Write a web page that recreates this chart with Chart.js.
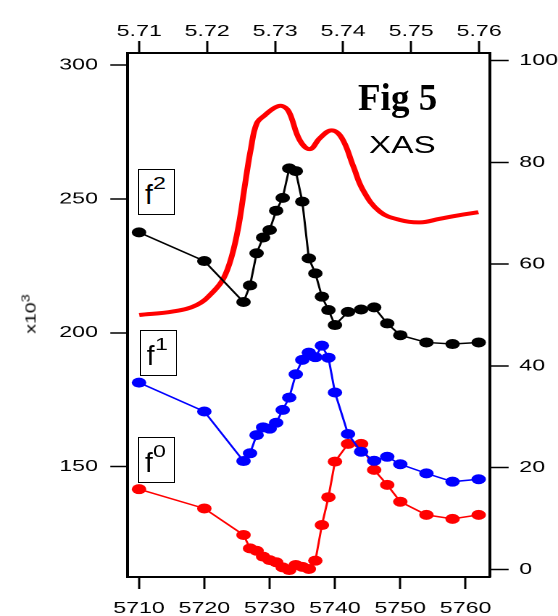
<!DOCTYPE html>
<html>
<head>
<meta charset="utf-8">
<script src="https://cdn.jsdelivr.net/npm/chart.js@4.4.1/dist/chart.umd.min.js"></script>
<style>
  html, body { margin: 0; padding: 0; background: #fff; overflow: hidden; }
  #pagina { position: relative; width: 558px; height: 616px; }
  /* the original figure is stretched sideways, so the chart is drawn narrow and widened */
  #ancho { position: absolute; left: 0; top: 0; width: 385px; height: 616px; transform: scaleX(1.4494); transform-origin: 0 0; }
  #grafico { position: absolute; left: 0; top: 0; }
  .caja { position: absolute; width: 37px; height: 46px; border: 1.5px solid #000; box-sizing: border-box; background: #fff; font-family: 'Liberation Sans', Arial, sans-serif; color: #000; }
  .caja .f { position: absolute; left: 5.7px; top: 10.8px; font-size: 28px; line-height: 28px; }
  .caja .sup { position: absolute; left: 14px; top: 6px; font-size: 16px; line-height: 16px; transform: scaleX(1.45); transform-origin: 0 0; }
  #xas { position: absolute; left: 254.6px; top: 133.7px; font: 23px/23px 'Liberation Sans', Arial, sans-serif; color: #000; }
  #fig { position: absolute; left: 358px; top: 78.5px; font: bold 37px/37px 'Liberation Serif', 'Times New Roman', serif; color: #000; }
  #tituloY { position: absolute; left: 28px; top: 314px; font: 15px/15px 'Liberation Sans', Arial, sans-serif; color: #000; white-space: nowrap;
             transform: translate(-50%, -50%) rotate(-90deg) scaleX(1.3); }
  #tituloY sup { font-size: 11px; }
</style>
</head>
<body>
<div id="pagina">
  <div id="ancho">
    <canvas id="grafico" width="385" height="616" style="width:385px;height:616px"></canvas>
    <div id="xas">XAS</div>
  </div>
  <div id="fig">Fig 5</div>
  <div class="caja" style="left:138.3px;top:169px"><span class="f">f</span><span class="sup">2</span></div>
  <div class="caja" style="left:140px;top:330px"><span class="f">f</span><span class="sup">1</span></div>
  <div class="caja" style="left:138.3px;top:437px"><span class="f">f</span><span class="sup">0</span></div>
  <div id="tituloY">x10<sup>3</sup></div>
</div>
<script>
// Energías (eV) de los puntos medidos
const energias = [5710, 5720, 5726, 5727, 5728, 5729, 5730, 5731, 5732, 5733, 5734, 5735, 5736,
                  5737, 5738, 5739, 5740, 5742, 5744, 5746, 5748, 5750, 5754, 5758, 5762];

// Valores (x10^3), eje izquierdo
const f2 = [237.5, 226.8, 211.5, 217.7, 229.7, 235.6, 238.4, 245.6, 250.4, 261.4, 260.4, 249.0, 227.8,
            222.2, 213.5, 208.5, 202.9, 207.8, 208.7, 209.5, 203.5, 199.1, 196.4, 195.8, 196.4];
const f1 = [181.4, 170.6, 152.1, 155.0, 161.8, 164.7, 164.2, 166.4, 171.2, 175.8, 184.5, 189.9, 192.6,
            190.9, 195.2, 190.7, 177.7, 162.2, 155.6, 152.2, 153.7, 150.9, 147.5, 144.4, 145.3];
const f0 = [141.6, 134.4, 124.5, 119.5, 118.6, 116.4, 115.1, 114.3, 112.4, 111.4, 113.3, 112.6, 111.8,
            114.9, 128.2, 138.6, 151.9, 158.5, 158.5, 148.8, 143.2, 136.9, 132.0, 130.5, 132.0];

// Curva XAS: energía en keV (eje superior) y absorción (eje derecho)
const xasKeV = [5.7100, 5.7150, 5.7185, 5.7209, 5.7224, 5.7236, 5.7246, 5.7256, 5.7264, 5.7273, 5.7285,
                5.7300, 5.7310, 5.7320, 5.7336, 5.7351, 5.7366, 5.7383, 5.7398, 5.7415, 5.7429, 5.7454,
                5.7483, 5.7513, 5.7542, 5.7570, 5.7599];
const xasValores = [50.0, 50.7, 52.0, 54.6, 57.2, 61.5, 67.4, 76.0, 82.5, 87.7, 89.3,
                    90.8, 91.1, 90.0, 84.4, 82.6, 84.8, 86.3, 84.8, 79.2, 74.6, 70.3,
                    68.7, 68.2, 68.9, 69.6, 70.2];

// Marcas de los ejes
const ticksAbajo = [5710, 5720, 5730, 5740, 5750, 5760];
const ticksArriba = [5.71, 5.72, 5.73, 5.74, 5.75, 5.76];
const ticksIzq = [150, 200, 250, 300];
const ticksDer = [0, 20, 40, 60, 80, 100];

const fuente = { family: "'Liberation Sans', Arial, sans-serif", size: 16 };

function puntos(xs, ys) {
  return xs.map((x, i) => ({ x: x, y: ys[i] }));
}

function serie(datos, color) {
  return {
    data: puntos(energias, datos),
    borderColor: color,
    backgroundColor: color,
    borderWidth: 1.5,
    pointRadius: 5,
    pointBorderWidth: 0,
    pointBackgroundColor: color,
    xAxisID: 'x',
    yAxisID: 'y'
  };
}

function eje(posicion, min, max, marcas, largo, relleno, tam, formato) {
  return {
    type: 'linear',
    position: posicion,
    min: min,
    max: max,
    afterBuildTicks: s => { s.ticks = marcas.map(v => ({ value: v })); },
    afterFit: s => {
      if (posicion === 'left' || posicion === 'right') s.width = tam;
      else s.height = tam;
    },
    grid: { drawOnChartArea: false, drawTicks: true, tickLength: largo, tickColor: '#000', tickWidth: 1.5 },
    border: { display: true, color: '#000', width: 2 },
    ticks: { color: '#000', font: fuente, padding: relleno, maxRotation: 0, autoSkip: false, callback: formato }
  };
}

const ctx = document.getElementById('grafico');

new Chart(ctx, {
  type: 'line',
  data: {
    datasets: [
      serie(f2, '#000000'),
      serie(f1, '#0000ff'),
      serie(f0, '#ff0000'),
      {
        data: puntos(xasKeV, xasValores),
        borderColor: '#ff0000',
        borderWidth: 4,
        pointRadius: 0,
        tension: 0.4,
        xAxisID: 'x2',
        yAxisID: 'y2'
      }
    ]
  },
  options: {
    responsive: false,
    devicePixelRatio: 2,
    animation: false,
    events: [],
    layout: { padding: 0, autoPadding: false },
    plugins: { legend: { display: false }, tooltip: { enabled: false } },
    scales: {
      x: eje('bottom', 5708.2, 5763.7, ticksAbajo, 12, 10, 39, v => String(v)),
      x2: eje('top', 5.70824, 5.76157, ticksArriba, 12, 0, 53, v => v.toFixed(2)),
      y: eje('left', 108.8, 304.5, ticksIzq, 11.7, 8.5, 87.8, v => String(v)),
      y2: eje('right', -1.5, 101.5, ticksDer, 13, 7.4, 47.1, v => String(v))
    }
  }
});
</script>
</body>
</html>
